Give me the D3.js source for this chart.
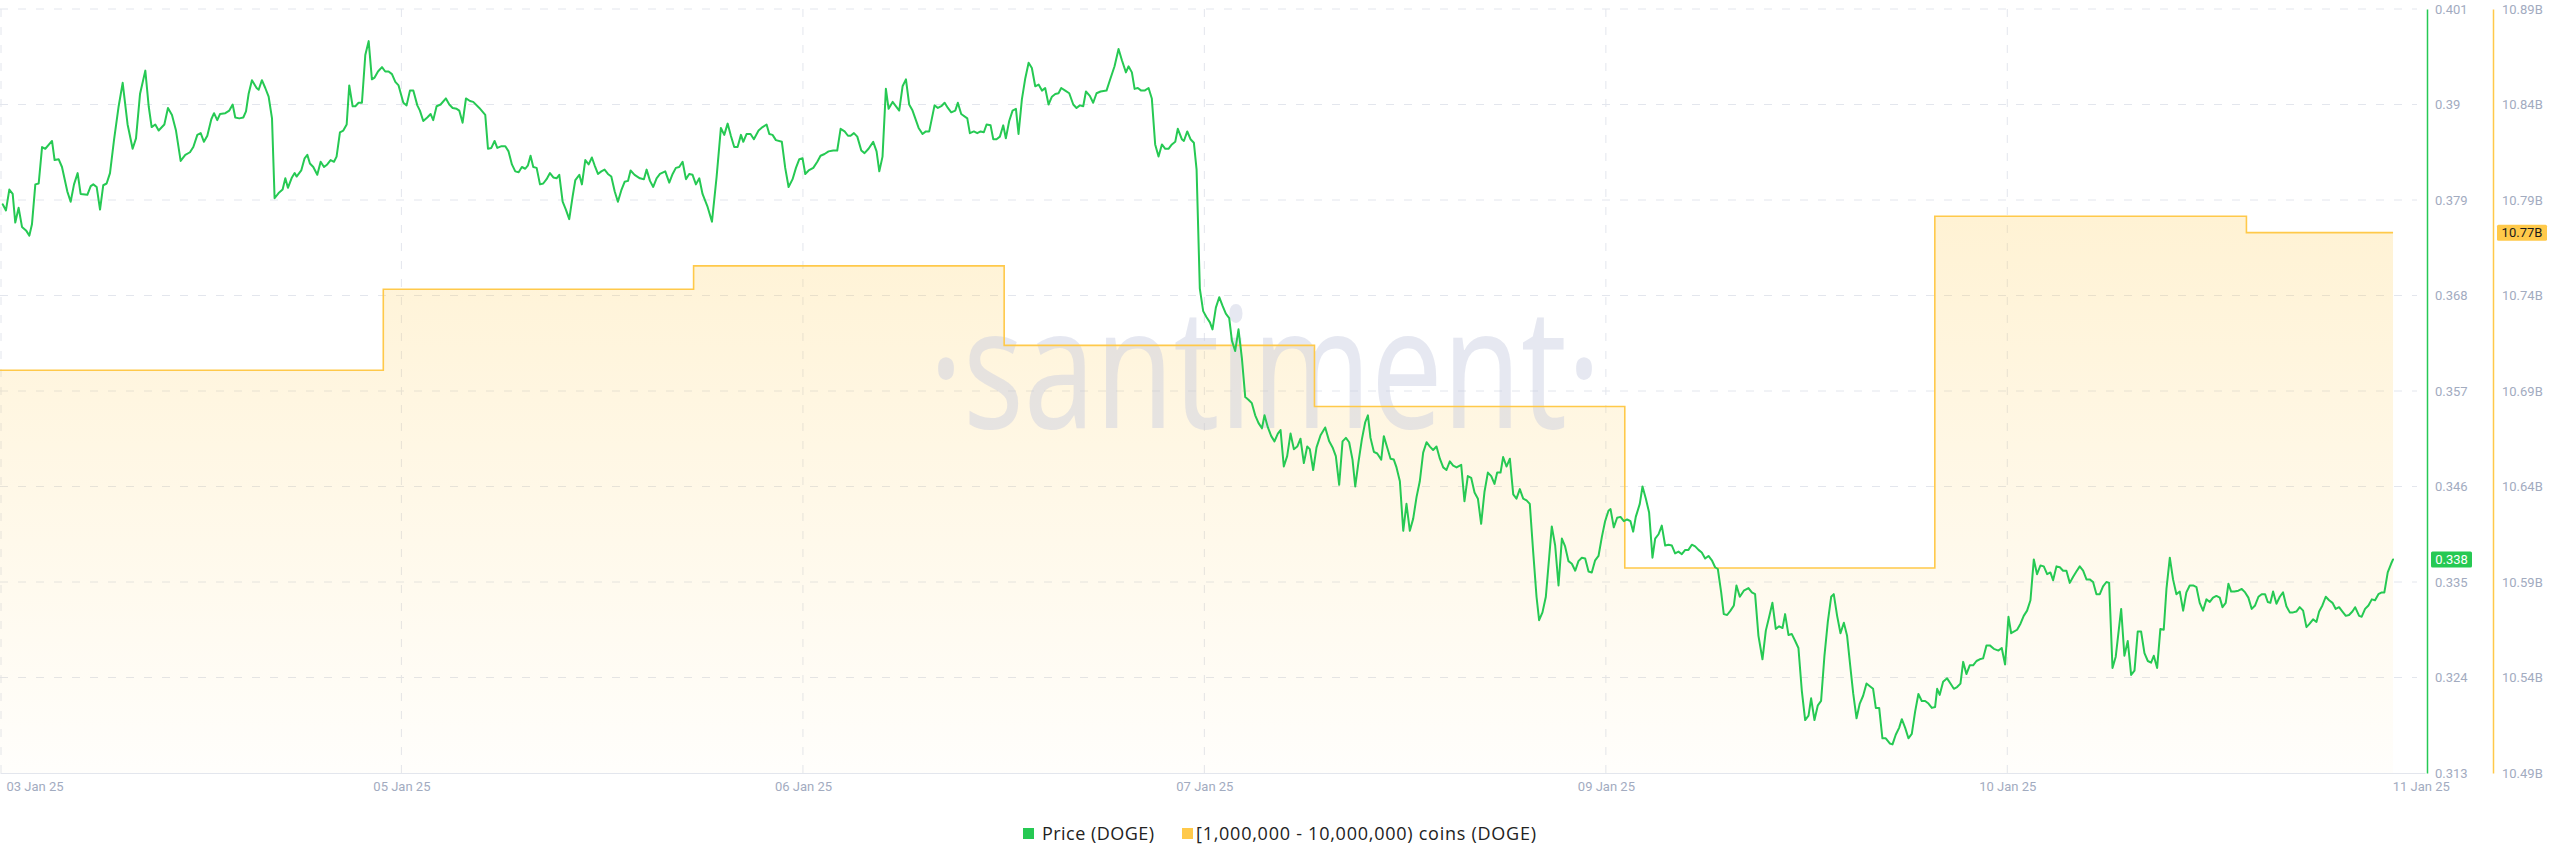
<!DOCTYPE html>
<html><head><meta charset="utf-8">
<script src="https://cdn.jsdelivr.net/npm/d3@7"></script>
<style>
html,body{margin:0;padding:0;background:#fff;}
svg{display:block;}
</style></head><body>
<svg id="chart" width="2560" height="867"></svg>
<script>
// ---------------- DATA ----------------
const startTime = Date.UTC(2025, 0, 3, 21, 0, 0); // hour 0 of the chart

// DOGE price: [hours since start, price USD]
const priceSeries = [
[0.21,.3785],[0.46,.3778],[0.72,.3802],[0.98,.3797],[1.18,.3764],[1.44,.3781],[1.70,.3759],[2.01,.3755],[2.27,.3749],[2.47,.3762],
[2.73,.3808],[2.99,.3809],[3.25,.3851],[3.50,.3849],[4.02,.3858],[4.22,.3836],[4.53,.3837],[4.79,.3828],[5.20,.3800],[5.46,.3788],
[5.72,.3808],[6.00,.3821],[6.23,.3797],[6.75,.3796],[7.01,.3806],[7.21,.3808],[7.47,.3805],[7.73,.3779],[7.98,.3807],[8.24,.3809],
[8.50,.3821],[8.81,.3859],[9.17,.3898],[9.48,.3925],[9.86,.3877],[10.25,.3849],[10.51,.3861],[10.82,.3912],[11.23,.3939],[11.49,.3898],
[11.72,.3874],[12.00,.3877],[12.26,.3870],[12.70,.3877],[12.98,.3896],[13.29,.3888],[13.60,.3870],[13.96,.3835],[14.32,.3842],[14.68,.3845],
[14.94,.3851],[15.25,.3865],[15.51,.3867],[15.76,.3857],[16.02,.3864],[16.33,.3883],[16.54,.3890],[16.79,.3882],[17.00,.3889],[17.41,.3890],
[17.72,.3893],[17.98,.3900],[18.18,.3885],[18.49,.3884],[18.80,.3885],[19.01,.3892],[19.21,.3912],[19.47,.3928],[19.83,.3919],[19.99,.3917],
[20.24,.3928],[20.50,.3919],[20.76,.3909],[21.02,.3884],[21.22,.3792],[21.53,.3798],[21.84,.3802],[22.05,.3815],[22.25,.3804],[22.56,.3816],
[22.77,.3821],[22.92,.3817],[23.28,.3824],[23.54,.3838],[23.75,.3842],[23.95,.3832],[24.21,.3828],[24.52,.3819],[24.78,.3834],[25.04,.3828],
[25.29,.3831],[25.55,.3836],[25.81,.3834],[26.01,.3840],[26.27,.3868],[26.53,.3870],[26.79,.3877],[26.99,.3922],[27.25,.3898],[27.46,.3898],
[27.71,.3902],[27.97,.3902],[28.23,.3957],[28.49,.3973],[28.74,.3929],[28.95,.3931],[29.21,.3938],[29.52,.3943],[29.77,.3938],[30.03,.3938],
[30.29,.3935],[30.55,.3926],[30.80,.3922],
[31.17,.3902],[31.42,.3899],[31.68,.3916],[31.94,.3916],[32.25,.3899],[32.45,.3893],[32.71,.3881],[33.02,.3885],[33.28,.3889],[33.48,.3882],
[33.74,.3898],[34.05,.3900],[34.46,.3907],[34.72,.3900],[34.98,.3896],[35.29,.3895],[35.49,.3893],[35.75,.3879],[36.01,.3907],[36.32,.3904],
[36.57,.3903],[37.04,.3896],[37.50,.3888],[37.71,.3849],[37.97,.3850],[38.22,.3858],[38.43,.3850],[38.76,.3852],[39.05,.3852],[39.30,.3846],
[39.56,.3831],[39.82,.3823],[40.08,.3822],[40.33,.3828],[40.59,.3826],[40.80,.3830],[41.00,.3841],[41.21,.3828],[41.47,.3827],[41.73,.3808],
[41.98,.3809],[42.24,.3814],[42.50,.3821],[42.76,.3816],[43.01,.3815],[43.22,.3819],[43.48,.3788],[43.73,.3779],[43.99,.3768],[44.25,.3794],
[44.46,.3813],[44.77,.3819],[44.97,.3808],[45.23,.3836],[45.49,.3831],[45.74,.3839],[45.95,.3830],[46.21,.3820],[46.47,.3823],[46.72,.3825],
[46.98,.3820],[47.24,.3817],[47.50,.3800],[47.75,.3788],[48.01,.3801],[48.27,.3811],[48.53,.3812],[48.73,.3824],[49.04,.3819],[49.45,.3815],
[49.76,.3814],[49.97,.3825],[50.23,.3812],[50.48,.3805],[50.74,.3815],[51.00,.3820],[51.41,.3823],[51.72,.3810],[51.98,.3820],[52.23,.3827],
[52.49,.3828],[52.75,.3834],[53.01,.3814],[53.26,.3820],[53.52,.3819],[53.78,.3808],[54.04,.3815],[54.29,.3797],[54.66,.3783],[55.02,.3765],
[55.38,.3817],[55.71,.3873],[55.97,.3865],[56.23,.3878],[56.48,.3864],[56.74,.3851],[57.00,.3851],[57.26,.3865],[57.44,.3857],[57.69,.3866],
[58.00,.3866],[58.26,.3860],[58.62,.3870],[58.93,.3874],[59.24,.3877],[59.45,.3866],[59.70,.3865],[59.96,.3859],[60.42,.3857],[60.68,.3827],
[60.94,.3805],[61.25,.3814],[61.51,.3827],[61.77,.3837],[62.02,.3838],[62.23,.3820],
[62.49,.3824],[62.85,.3827],[63.16,.3834],[63.41,.3841],[63.72,.3843],[64.03,.3846],[64.39,.3847],[64.70,.3847],[64.96,.3872],[65.27,.3869],
[65.53,.3864],[65.73,.3864],[65.99,.3867],[66.25,.3863],[66.56,.3847],[66.81,.3844],[67.12,.3849],[67.48,.3857],[67.74,.3846],[67.95,.3823],
[68.20,.3840],[68.46,.3918],[68.67,.3895],[68.98,.3903],[69.49,.3893],[69.75,.3921],[70.01,.3929],[70.26,.3900],[70.52,.3893],[70.99,.3873],
[71.29,.3866],[71.55,.3869],[71.81,.3869],[72.22,.3899],[72.48,.3896],[72.74,.3898],[73.00,.3902],[73.25,.3896],[73.51,.3891],[73.82,.3893],
[74.02,.3902],[74.28,.3889],[74.75,.3884],[74.95,.3867],[75.26,.3869],[75.52,.3867],[75.78,.3869],[76.03,.3868],[76.24,.3877],[76.55,.3876],
[76.76,.3860],[77.01,.3860],[77.27,.3863],[77.53,.3876],[77.73,.3861],[77.99,.3881],[78.25,.3893],[78.51,.3895],[78.71,.3866],[78.97,.3906],
[79.23,.3930],[79.49,.3948],[79.74,.3942],[80.00,.3921],[80.26,.3923],[80.52,.3916],[80.77,.3919],[81.03,.3900],[81.29,.3909],[81.55,.3912],
[81.80,.3913],[82.01,.3919],[82.32,.3916],[82.63,.3913],[82.94,.3900],[83.19,.3896],[83.45,.3899],[83.71,.3898],[83.92,.3915],[84.22,.3910],
[84.48,.3902],[84.74,.3913],[85.05,.3915],[85.51,.3916],[85.77,.3928],[86.13,.3944],[86.44,.3964],[86.70,.3951],[87.01,.3937],[87.21,.3944],
[87.47,.3937],[87.68,.3918],[87.93,.3919],[88.19,.3916],[88.45,.3916],[88.76,.3919],[89.01,.3907],[89.27,.3854],[89.53,.3840],[89.79,.3854],
[90.05,.3849],[90.30,.3849],[90.56,.3854],[90.82,.3857],[91.02,.3872],[91.33,.3860],[91.49,.3858],[91.75,.3869],[92.00,.3860],[92.26,.3856],
[92.47,.3825],[92.72,.3688],[92.98,.3662],
[93.24,.3655],[93.50,.3649],[93.70,.3641],[93.96,.3666],[94.22,.3678],[94.48,.3668],[94.73,.3659],[94.99,.3654],[95.20,.3628],[95.45,.3616],
[95.71,.3641],[95.97,.3608],[96.23,.3563],[96.48,.3560],[96.74,.3556],[97.00,.3542],[97.26,.3533],[97.52,.3527],[97.72,.3542],[97.98,.3528],
[98.24,.3518],[98.49,.3512],[98.75,.3521],[98.96,.3525],[99.21,.3483],[99.47,.3495],[99.73,.3521],[99.99,.3503],[100.25,.3506],[100.50,.3515],
[100.76,.3487],[101.02,.3506],[101.22,.3503],[101.48,.3479],[101.74,.3505],[102.05,.3519],[102.41,.3528],[102.72,.3512],[102.98,.3505],[103.23,.3495],
[103.49,.3462],[103.75,.3512],[104.01,.3516],[104.26,.3511],[104.52,.3491],[104.73,.3460],[104.98,.3488],[105.24,.3514],[105.50,.3534],[105.71,.3542],
[105.91,.3516],[106.17,.3500],[106.43,.3498],[106.74,.3491],[106.94,.3518],[107.20,.3505],[107.46,.3492],[107.71,.3491],[107.92,.3482],[108.18,.3466],
[108.44,.3409],[108.69,.3440],[108.95,.3409],[109.21,.3423],[109.47,.3448],[109.72,.3466],[109.98,.3499],[110.24,.3511],[110.50,.3506],[110.75,.3502],
[111.01,.3506],[111.27,.3492],[111.53,.3482],[111.78,.3479],[112.04,.3489],[112.30,.3484],[112.56,.3482],[112.92,.3485],[113.17,.3443],[113.43,.3472],
[113.69,.3470],[113.95,.3453],[114.21,.3446],[114.46,.3417],[114.72,.3454],[114.98,.3476],[115.24,.3472],[115.49,.3463],[115.70,.3476],[115.96,.3476],
[116.16,.3494],[116.42,.3483],[116.68,.3492],[116.94,.3451],[117.19,.3446],[117.45,.3457],[117.71,.3446],[117.97,.3444],[118.22,.3440],[118.48,.3385],
[118.74,.3333],[118.94,.3306],[119.20,.3315],[119.46,.3333],[119.72,.3379],[119.92,.3414],[120.18,.3392],[120.44,.3346],[120.70,.3400],[120.95,.3391],
[121.21,.3374],[121.47,.3371],[121.73,.3363],[121.98,.3374],[122.24,.3378],[122.50,.3377],[122.76,.3362],[123.01,.3361],[123.27,.3375],[123.53,.3380],
[123.79,.3402],[124.04,.3420],[124.30,.3432],
[124.46,.3434],[124.71,.3413],[124.97,.3424],[125.23,.3425],[125.49,.3420],[125.74,.3422],[126.00,.3420],[126.21,.3408],[126.41,.3425],[126.72,.3440],
[126.93,.3460],[127.19,.3446],[127.44,.3430],[127.70,.3378],[127.91,.3400],[128.17,.3405],[128.42,.3415],[128.68,.3392],[128.94,.3393],[129.20,.3392],
[129.45,.3383],[129.71,.3385],[129.97,.3382],[130.23,.3387],[130.48,.3387],[130.74,.3393],[131.00,.3391],[131.26,.3387],[131.51,.3384],[131.77,.3377],
[132.03,.3380],[132.29,.3375],[132.54,.3367],[132.75,.3365],[133.01,.3338],[133.21,.3313],[133.47,.3312],[133.73,.3317],[133.99,.3323],[134.19,.3346],
[134.45,.3333],[134.76,.3340],[135.12,.3343],[135.38,.3338],[135.63,.3336],[135.89,.3288],[136.20,.3261],[136.46,.3294],[136.72,.3310],[136.97,.3326],
[137.23,.3296],[137.49,.3299],[137.75,.3297],[137.95,.3313],[138.21,.3289],[138.47,.3290],[138.73,.3282],[138.98,.3274],[139.24,.3225],[139.50,.3191],
[139.76,.3196],[139.96,.3216],[140.22,.3191],[140.48,.3208],[140.73,.3213],[140.99,.3265],[141.25,.3304],[141.51,.3333],[141.71,.3336],[141.97,.3311],
[142.23,.3291],[142.49,.3303],[142.74,.3288],[143.00,.3251],[143.21,.3222],[143.47,.3193],[143.72,.3210],[143.98,.3219],[144.24,.3233],[144.50,.3230],
[144.75,.3227],[144.96,.3205],[145.22,.3205],[145.47,.3170],[145.73,.3170],[146.04,.3164],[146.25,.3163],[146.50,.3174],[146.76,.3182],[146.97,.3192],
[147.23,.3182],[147.48,.3170],[147.74,.3175],[148.00,.3201],[148.25,.3221],[148.51,.3213],[148.77,.3213],[149.03,.3210],[149.29,.3205],[149.54,.3206],
[149.70,.3227],[149.90,.3220],[150.16,.3235],[150.47,.3239],[150.73,.3233],[150.99,.3227],[151.24,.3229],[151.50,.3233],[151.71,.3258],[151.96,.3244],
[152.22,.3254],[152.48,.3254],[152.74,.3259],[152.99,.3261],[153.25,.3262],[153.51,.3277],[153.77,.3277],[154.08,.3273],[154.44,.3271],[154.69,.3274],
[154.95,.3255],[155.21,.3310],
[155.42,.3291],[155.88,.3295],[156.14,.3302],[156.39,.3311],[156.65,.3317],[156.91,.3329],[157.17,.3376],[157.42,.3359],[157.68,.3369],[157.94,.3368],
[158.20,.3359],[158.45,.3361],[158.66,.3352],[158.92,.3368],[159.18,.3367],[159.43,.3363],[159.69,.3363],[159.95,.3349],[160.21,.3356],[160.46,.3362],
[160.72,.3368],[160.98,.3363],[161.24,.3353],[161.49,.3353],[161.75,.3350],[162.01,.3336],[162.27,.3336],[162.52,.3345],[162.78,.3350],[162.99,.3349],
[163.25,.3251],[163.50,.3264],[163.92,.3319],[164.17,.3265],[164.43,.3282],[164.69,.3243],[164.95,.3248],[165.20,.3293],[165.46,.3293],[165.72,.3268],
[165.98,.3259],[166.23,.3257],[166.44,.3265],[166.70,.3251],[166.95,.3296],[167.21,.3295],[167.42,.3342],[167.68,.3378],[167.93,.3353],[168.19,.3336],
[168.45,.3339],[168.71,.3317],[168.96,.3338],[169.22,.3346],[169.48,.3346],[169.74,.3344],[169.99,.3326],[170.25,.3317],[170.51,.3330],[170.77,.3327],
[171.02,.3332],[171.28,.3334],[171.54,.3332],[171.75,.3321],[172.00,.3326],[172.21,.3348],[172.42,.3339],[172.67,.3339],[172.98,.3340],[173.24,.3342],
[173.50,.3338],[173.75,.3332],[174.01,.3319],[174.27,.3323],[174.53,.3333],[174.78,.3336],[175.04,.3336],[175.25,.3327],[175.45,.3326],[175.66,.3339],
[175.92,.3325],[176.18,.3333],[176.43,.3338],[176.69,.3322],[176.95,.3315],[177.21,.3315],[177.46,.3316],[177.72,.3321],[177.98,.3317],[178.24,.3298],
[178.49,.3302],[178.75,.3307],[179.01,.3304],[179.22,.3316],[179.47,.3323],[179.73,.3333],[179.99,.3329],[180.25,.3326],[180.50,.3319],[180.76,.3321],
[181.02,.3316],[181.28,.3311],[181.53,.3312],[181.79,.3316],[182.00,.3321],[182.31,.3311],[182.51,.3310],[182.77,.3319],[183.03,.3323],[183.29,.3330],
[183.54,.3329],[183.80,.3336],[184.06,.3338],[184.26,.3338],[184.52,.3361],[184.78,.3371],[184.93,.3376]
];

// Holders with 1,000,000 - 10,000,000 DOGE: balance in billions of coins
const holderHours  = [0, 29.62, 53.60, 77.60, 101.58, 125.56, 149.52, 173.60, 184.93];
const holderValues = [10.7009, 10.7433, 10.7555, 10.7139, 10.6819, 10.5973, 10.7815, 10.7729, 10.7729];

const dateTickHours  = [0, 31.02, 62.05, 93.07, 124.10, 155.12, 186.15];
const dateTickLabels = ["03 Jan 25", "05 Jan 25", "06 Jan 25", "07 Jan 25", "09 Jan 25", "10 Jan 25", "11 Jan 25"];

const priceTicks      = [0.401, 0.39, 0.379, 0.368, 0.357, 0.346, 0.335, 0.324, 0.313];
const priceTickLabels = ["0.401", "0.39", "0.379", "0.368", "0.357", "0.346", "0.335", "0.324", "0.313"];
const holderTicks      = [10.89, 10.84, 10.79, 10.74, 10.69, 10.64, 10.59, 10.54, 10.49];
const holderTickLabels = ["10.89B", "10.84B", "10.79B", "10.74B", "10.69B", "10.64B", "10.59B", "10.54B", "10.49B"];

const legendLabels = ["Price (DOGE)", "[1,000,000 - 10,000,000) coins (DOGE)"];
const watermarkText = "\u00B7santiment\u00B7";

// ---------------- STYLE / LAYOUT ----------------
const GREEN = "#26c953", ORANGE = "#ffc94a", GRID = "#e3e6ed", TICK = "#a2abbf";
const plotLeft = 0, plotRight = 2425, plotTop = 9, plotBottom = 773;
const totalHours = 187.4;

const svg = d3.select("#chart");
const toDate = h => new Date(startTime + h * 3600e3);

const x = d3.scaleTime().domain([toDate(0), toDate(totalHours)]).range([plotLeft, plotRight]);
const yP = d3.scaleLinear().domain([0.313, 0.401]).range([plotBottom, plotTop]);
const yH = d3.scaleLinear().domain([10.49, 10.89]).range([plotBottom, plotTop]);

// gradient
const defs = svg.append("defs");
const grad = defs.append("linearGradient").attr("id", "holderFill")
  .attr("gradientUnits", "userSpaceOnUse").attr("x1", 0).attr("x2", 0).attr("y1", plotTop).attr("y2", plotBottom);
grad.append("stop").attr("offset", 0).attr("stop-color", ORANGE).attr("stop-opacity", 0.32);
grad.append("stop").attr("offset", 1).attr("stop-color", ORANGE).attr("stop-opacity", 0.02);

// grid
const grid = svg.append("g");
grid.selectAll("line.h").data(priceTicks.slice(0, -1)).join("line")
  .attr("x1", plotLeft).attr("x2", 2417).attr("y1", d => yP(d)).attr("y2", d => yP(d))
  .attr("stroke", GRID).attr("stroke-width", 1).attr("stroke-dasharray", "8 10");
grid.selectAll("line.v").data(dateTickHours.filter(h => x(toDate(h)) < 2400)).join("line")
  .attr("x1", d => Math.max(1, x(toDate(d)))).attr("x2", d => Math.max(1, x(toDate(d))))
  .attr("y1", plotTop).attr("y2", plotBottom)
  .attr("stroke", GRID).attr("stroke-width", 1).attr("stroke-dasharray", "8 10");

// holder area + line
const holderData = holderHours.map((h, i) => ({ t: toDate(h), v: holderValues[i] }));
svg.append("path").datum(holderData)
  .attr("d", d3.area().x(d => x(d.t)).y0(plotBottom).y1(d => yH(d.v)).curve(d3.curveStepAfter))
  .attr("fill", "url(#holderFill)");

// watermark
svg.append("text").text(watermarkText)
  .attr("x", 1265).attr("y", 428).attr("text-anchor", "middle")
  .attr("font-family", "'Noto Sans', sans-serif").attr("font-size", 168)
  .attr("textLength", 672).attr("lengthAdjust", "spacingAndGlyphs")
  .attr("fill", "#c8cde0").attr("fill-opacity", 0.45);

svg.append("path").datum(holderData)
  .attr("d", d3.line().x(d => x(d.t)).y(d => yH(d.v)).curve(d3.curveStepAfter))
  .attr("fill", "none").attr("stroke", ORANGE).attr("stroke-width", 1.6);

// price line
svg.append("path").datum(priceSeries)
  .attr("d", d3.line().x(d => x(toDate(d[0]))).y(d => yP(d[1])))
  .attr("fill", "none").attr("stroke", GREEN).attr("stroke-width", 2)
  .attr("stroke-linejoin", "round").attr("stroke-linecap", "round");

// x axis
const xAxis = svg.append("g").attr("transform", `translate(0,${plotBottom})`)
  .call(d3.axisBottom(x).tickValues(dateTickHours.map(toDate))
    .tickFormat((d, i) => dateTickLabels[i]).tickSize(0).tickPadding(9));
xAxis.select(".domain").attr("stroke", GRID).attr("stroke-width", 1.2);
xAxis.selectAll("text").attr("fill", TICK).attr("font-family", "Roboto, sans-serif").attr("font-size", 13);
xAxis.selectAll(".tick text").filter((d, i) => i === 0).attr("text-anchor", "start").attr("x", 6);
xAxis.selectAll(".tick text").filter((d, i) => i === dateTickLabels.length - 1).attr("x", 12);

// price axis
const pAxis = svg.append("g").attr("transform", "translate(2427,0)")
  .call(d3.axisRight(yP).tickValues(priceTicks).tickFormat((d, i) => priceTickLabels[i]).tickSize(0).tickSizeOuter(0).tickPadding(8));
pAxis.select(".domain").attr("stroke", GREEN).attr("stroke-width", 1.5);
pAxis.selectAll("text").attr("fill", TICK).attr("font-family", "Roboto, sans-serif").attr("font-size", 13);

// holder axis
const hAxis = svg.append("g").attr("transform", "translate(2493,0)")
  .call(d3.axisRight(yH).tickValues(holderTicks).tickFormat((d, i) => holderTickLabels[i]).tickSize(0).tickSizeOuter(0).tickPadding(9));
hAxis.select(".domain").attr("stroke", ORANGE).attr("stroke-width", 1.5);
hAxis.selectAll("text").attr("fill", TICK).attr("font-family", "Roboto, sans-serif").attr("font-size", 13);

// last value badges
const lastP = priceSeries[priceSeries.length - 1][1];
const lastH = holderValues[holderValues.length - 1];
const pb = svg.append("g").attr("transform", `translate(2431,${yP(lastP)})`);
pb.append("rect").attr("x", 0).attr("y", -8).attr("width", 41).attr("height", 16).attr("rx", 1.5).attr("fill", GREEN);
pb.append("text").attr("x", 20.5).attr("dy", "0.35em").attr("text-anchor", "middle").attr("fill", "#fff")
  .attr("font-family", "Roboto, sans-serif").attr("font-size", 13).text(d3.format(".3f")(lastP));
const hb = svg.append("g").attr("transform", `translate(2497,${yH(lastH)})`);
hb.append("rect").attr("x", 0).attr("y", -8).attr("width", 50).attr("height", 16).attr("rx", 1.5).attr("fill", ORANGE);
hb.append("text").attr("x", 25).attr("dy", "0.35em").attr("text-anchor", "middle").attr("fill", "#1b1b1b")
  .attr("font-family", "Roboto, sans-serif").attr("font-size", 13).text(d3.format(".2f")(lastH) + "B");

// legend
const legend = svg.append("g").attr("transform", "translate(0,834)");
const legendColors = [GREEN, ORANGE];
const legendWidths = [112, 340];
const legendStarts = [1023, 1182];
const legendGaps = [8, 3];
legendLabels.forEach((lab, i) => {
  const g = legend.append("g").attr("transform", `translate(${legendStarts[i]},0)`);
  g.append("rect").attr("x", 0).attr("y", -6).attr("width", 11).attr("height", 11).attr("fill", legendColors[i]);
  g.append("text").attr("x", 11 + legendGaps[i]).attr("y", 6).text(lab)
    .attr("font-family", "'Open Sans', sans-serif").attr("font-size", 18).attr("fill", "#222")
    .attr("textLength", legendWidths[i]).attr("lengthAdjust", "spacing");
});
</script>
</body></html>
